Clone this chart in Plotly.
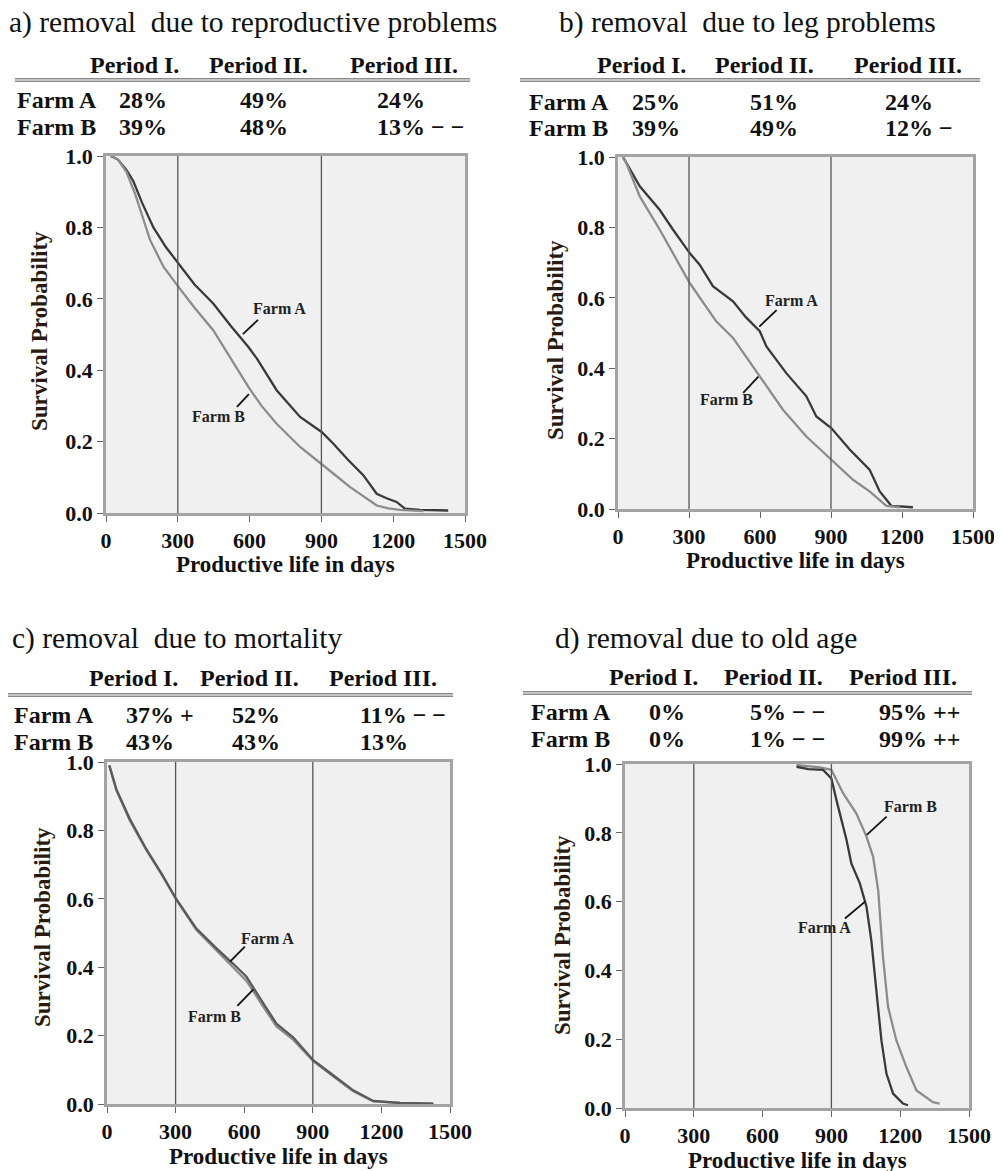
import plotly.graph_objects as go

# the page body has an 8px margin; the figure fills the rest of the window
PAGE_W, PAGE_H, BODY_MARGIN = 1002, 1171, 8
W, H = PAGE_W - BODY_MARGIN, PAGE_H - BODY_MARGIN

# ---------------- data ----------------
PERIODS = ["Period I.", "Period II.", "Period III."]
FARMS = ["Farm A", "Farm B"]

REPRO_A = ["28%", "49%", "24%"]
REPRO_B = ["39%", "48%", "13% \u2212 \u2212"]
LEG_A = ["25%", "51%", "24%"]
LEG_B = ["39%", "49%", "12% \u2212"]
MORT_A = ["37% +", "52%", "11% \u2212 \u2212"]
MORT_B = ["43%", "43%", "13%"]
AGE_A = ["0%", "5% \u2212 \u2212", "95% ++"]
AGE_B = ["0%", "1% \u2212 \u2212", "99% ++"]

X_TICKS = [0, 300, 600, 900, 1200, 1500]
Y_TICKS = [0.0, 0.2, 0.4, 0.6, 0.8, 1.0]
PERIOD_BOUNDS = [300, 900]

# a) reproductive problems
REPRO_DAYS_A = [20, 50, 86, 114, 150, 198, 250, 302, 370, 448, 520, 595, 630, 713, 811, 901, 950, 1010, 1075, 1131, 1170, 1214, 1249, 1312, 1416, 1430]
REPRO_SURV_A = [1.0, 0.99, 0.96, 0.93, 0.87, 0.80, 0.745, 0.70, 0.64, 0.587, 0.525, 0.465, 0.433, 0.344, 0.269, 0.227, 0.194, 0.15, 0.106, 0.054, 0.042, 0.031, 0.012, 0.009, 0.007, 0.007]
REPRO_DAYS_B = [20, 50, 86, 121, 184, 240, 302, 370, 448, 520, 595, 650, 713, 811, 901, 960, 1019, 1080, 1131, 1180, 1228, 1326]
REPRO_SURV_B = [1.0, 0.99, 0.955, 0.895, 0.765, 0.69, 0.634, 0.575, 0.512, 0.435, 0.353, 0.30, 0.25, 0.185, 0.138, 0.105, 0.073, 0.045, 0.021, 0.013, 0.009, 0.005]

# b) leg problems
LEG_DAYS_A = [21, 35, 92, 176, 232, 303, 345, 401, 486, 540, 599, 627, 711, 796, 838, 901, 979, 1063, 1106, 1155, 1246]
LEG_SURV_A = [1.0, 0.983, 0.917, 0.85, 0.794, 0.727, 0.694, 0.633, 0.59, 0.545, 0.505, 0.462, 0.386, 0.32, 0.263, 0.23, 0.169, 0.112, 0.05, 0.009, 0.005]
LEG_DAYS_B = [21, 35, 92, 176, 232, 303, 415, 486, 599, 697, 796, 901, 993, 1063, 1134, 1190]
LEG_SURV_B = [1.0, 0.983, 0.888, 0.794, 0.727, 0.642, 0.533, 0.486, 0.377, 0.282, 0.206, 0.14, 0.083, 0.05, 0.009, 0.005]

# c) mortality
MORT_DAYS = [10, 41, 99, 172, 240, 304, 391, 479, 552, 610, 683, 741, 814, 902, 989, 1077, 1164, 1281, 1427]
MORT_SURV_A = [0.99, 0.92, 0.835, 0.745, 0.672, 0.598, 0.513, 0.455, 0.41, 0.372, 0.295, 0.235, 0.195, 0.128, 0.084, 0.04, 0.009, 0.003, 0.001]
MORT_SURV_B = [0.99, 0.917, 0.83, 0.742, 0.67, 0.596, 0.509, 0.45, 0.402, 0.36, 0.285, 0.227, 0.188, 0.125, 0.081, 0.037, 0.008, 0.003, 0.001]

# d) old age
AGE_DAYS_A = [748, 800, 864, 900, 922, 966, 987, 1024, 1053, 1074, 1096, 1118, 1140, 1169, 1212, 1234]
AGE_SURV_A = [0.992, 0.985, 0.983, 0.958, 0.895, 0.779, 0.711, 0.653, 0.585, 0.488, 0.342, 0.197, 0.10, 0.042, 0.013, 0.008]
AGE_DAYS_B = [748, 850, 900, 951, 1009, 1053, 1082, 1104, 1125, 1147, 1183, 1227, 1271, 1314, 1343, 1372]
AGE_SURV_B = [0.997, 0.99, 0.983, 0.915, 0.856, 0.789, 0.73, 0.633, 0.439, 0.294, 0.197, 0.119, 0.051, 0.032, 0.017, 0.013]

# ---------------- layout helpers ----------------
SERIF = "Liberation Serif"
COL_A = "#3a3a3a"
COL_B = "#8c8c8c"

def px(x):
    return (x - BODY_MARGIN) / W

def py(y):
    return 1 - (y - BODY_MARGIN) / H

panels = [
    dict(title="a) removal  due to reproductive problems", tpos=(7, 22),
         box=(106, 465, 156, 513), hx=[88, 207, 348], hy=65, line=(15, 470, 80),
         rows=[100, 127], lx=15, vx=[117, 238, 375], vals=[REPRO_A, REPRO_B],
         ytitle=(40, 331),
         curves=[(REPRO_DAYS_A, REPRO_SURV_A, COL_A), (REPRO_DAYS_B, REPRO_SURV_B, COL_B)],
         labels=[("Farm A", 723, 0.574, (635, 0.541, 572, 0.501)),
                 ("Farm B", 468, 0.269, (597, 0.333, 547, 0.297))]),
    dict(title="b) removal  due to leg problems", tpos=(557, 22),
         box=(618, 973, 157, 509), hx=[595, 713, 852], hy=65, line=(520, 980, 80),
         rows=[102, 128], lx=527, vx=[630, 748, 883], vals=[LEG_A, LEG_B],
         ytitle=(555, 340),
         curves=[(LEG_DAYS_A, LEG_SURV_A, COL_A), (LEG_DAYS_B, LEG_SURV_B, COL_B)],
         labels=[("Farm A", 731, 0.592, (670, 0.565, 597, 0.518)),
                 ("Farm B", 460, 0.31, (593, 0.376, 529, 0.33))]),
    dict(title="c) removal  due to mortality", tpos=(10, 638),
         box=(107, 450, 762, 1104), hx=[87, 198, 327], hy=678, line=(8, 453, 695),
         rows=[715, 742], lx=12, vx=[124, 230, 358], vals=[MORT_A, MORT_B],
         ytitle=(42, 927),
         curves=[(MORT_DAYS, MORT_SURV_B, COL_B), (MORT_DAYS, MORT_SURV_A, "#5a5a5a")],
         labels=[("Farm A", 702, 0.485, (603, 0.46, 538, 0.416)),
                 ("Farm B", 472, 0.255, (640, 0.335, 570, 0.287))]),
    dict(title="d) removal due to old age", tpos=(553, 638),
         box=(625, 969, 764, 1108), hx=[607, 722, 847], hy=677, line=(523, 972, 693),
         rows=[712, 739], lx=529, vx=[647, 748, 877], vals=[AGE_A, AGE_B],
         ytitle=(562, 935),
         curves=[(AGE_DAYS_B, AGE_SURV_B, COL_B), (AGE_DAYS_A, AGE_SURV_A, COL_A)],
         labels=[("Farm B", 1243, 0.876, (1141, 0.847, 1054, 0.794)),
                 ("Farm A", 868, 0.526, (1047, 0.6, 959, 0.551))]),
]

fig = go.Figure()
annotations = []
shapes = []
layout = {}

for i, p in enumerate(panels):
    n = "" if i == 0 else str(i + 1)
    xa, ya = "x" + n, "y" + n
    x0, x1, y0, y1 = p["box"]
    common = dict(showline=True, mirror=True, linecolor="#a3a3a3", linewidth=2.5,
                  ticks="outside", ticklen=6, tickwidth=1.2, tickcolor="#666",
                  showgrid=False, zeroline=False, automargin=False,
                  tickfont=dict(family=SERIF, size=22, color="#111", weight="bold"))
    layout["xaxis" + n] = dict(domain=[px(x0), px(x1)], range=[0, 1500], anchor=ya,
                               tickvals=X_TICKS, **common)
    layout["yaxis" + n] = dict(domain=[py(y1), py(y0)], range=[0, 1.0], anchor=xa,
                               tickvals=Y_TICKS, tickformat=".1f", **common)
    # plot background
    shapes.append(dict(type="rect", xref=xa + " domain", yref=ya + " domain",
                       x0=0, x1=1, y0=0, y1=1, fillcolor="#f0f0f0",
                       line=dict(width=0), layer="below"))
    # period boundaries
    for b in PERIOD_BOUNDS:
        shapes.append(dict(type="line", xref=xa, yref=ya + " domain", x0=b, x1=b,
                           y0=0, y1=1, line=dict(color="#555", width=1.3)))
    # curves
    for days, surv, col in p["curves"]:
        fig.add_trace(go.Scatter(x=days, y=surv, mode="lines", xaxis=xa, yaxis=ya,
                                 line=dict(color=col, width=2.3), showlegend=False,
                                 hoverinfo="skip"))
    # curve labels
    for txt, lxv, lyv, (ax0, ay0, ax1, ay1) in p["labels"]:
        annotations.append(dict(text="<b>" + txt + "</b>", x=lxv, y=lyv, xref=xa, yref=ya,
                                showarrow=False,
                                font=dict(family=SERIF, size=16, color="#222")))
        shapes.append(dict(type="line", xref=xa, yref=ya, x0=ax0, y0=ay0, x1=ax1, y1=ay1,
                           line=dict(color="#111", width=1.8)))
    # panel title
    tx, ty = p["tpos"]
    annotations.append(dict(text=p["title"], x=px(tx), y=py(ty), xref="paper", yref="paper",
                            xanchor="left", yanchor="middle", showarrow=False,
                            font=dict(family=SERIF, size=29.5, color="#111")))
    # table header
    for hx, per in zip(p["hx"], PERIODS):
        annotations.append(dict(text="<b>" + per + "</b>", x=px(hx), y=py(p["hy"]),
                                xref="paper", yref="paper", xanchor="left", yanchor="middle",
                                showarrow=False, font=dict(family=SERIF, size=24, color="#111")))
    lx0, lx1, ly = p["line"]
    for dy in (-1.2, 1.2):
        shapes.append(dict(type="line", xref="paper", yref="paper", x0=px(lx0), x1=px(lx1),
                           y0=py(ly + dy), y1=py(ly + dy), line=dict(color="#8a8a8a", width=1.6)))
    # table rows
    for ry, farm, vals in zip(p["rows"], FARMS, p["vals"]):
        annotations.append(dict(text="<b>" + farm + "</b>", x=px(p["lx"]), y=py(ry),
                                xref="paper", yref="paper", xanchor="left", yanchor="middle",
                                showarrow=False, font=dict(family=SERIF, size=24, color="#111")))
        for vx, v in zip(p["vx"], vals):
            annotations.append(dict(text="<b>" + v + "</b>", x=px(vx), y=py(ry),
                                    xref="paper", yref="paper", xanchor="left", yanchor="middle",
                                    showarrow=False, font=dict(family=SERIF, size=24, color="#111")))
    # axis titles
    annotations.append(dict(text="<b>Productive life in days</b>", x=px((x0 + x1) / 2),
                            y=py(y1 + 52), xref="paper", yref="paper", showarrow=False,
                            xanchor="center", yanchor="middle",
                            font=dict(family=SERIF, size=23, color="#111")))
    ytx, yty = p["ytitle"]
    annotations.append(dict(text="<b>Survival Probability</b>", x=px(ytx), y=py(yty),
                            xref="paper", yref="paper", showarrow=False, textangle=-90,
                            xanchor="center", yanchor="middle",
                            font=dict(family=SERIF, size=23, color="#2a1a10")))

fig.update_layout(width=W, height=H, margin=dict(l=0, r=0, t=0, b=0, autoexpand=False),
                  paper_bgcolor="white", plot_bgcolor="rgba(0,0,0,0)",
                  annotations=annotations, shapes=shapes, **layout)

fig.write_html("out.html")
